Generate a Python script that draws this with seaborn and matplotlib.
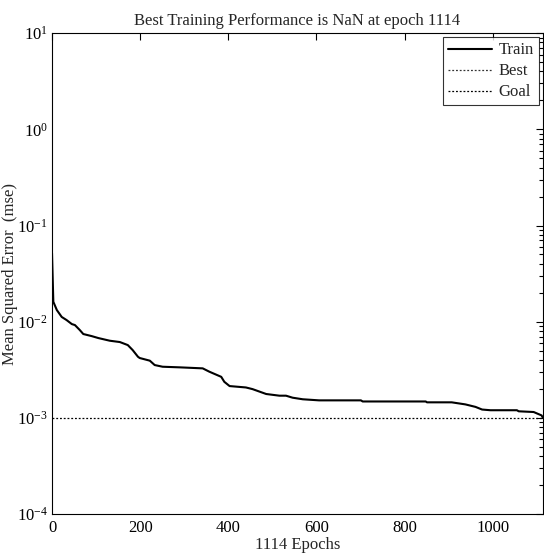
import numpy as np
import pandas as pd
import matplotlib
matplotlib.use("Agg")
import matplotlib.pyplot as plt
import seaborn as sns
from matplotlib.ticker import LogLocator, NullFormatter, FixedLocator

# Data
epochs = [0, 3, 11, 22, 33, 45, 52, 63, 71, 90, 105, 131, 154, 172, 183, 195, 199,
          222, 233, 251, 290, 342, 357, 384, 391, 403, 440, 455, 486, 516, 531,
          546, 569, 606, 701, 705, 848, 851, 907, 938, 961, 976, 995, 1055,
          1059, 1093, 1111, 1114]
train_mse = [0.0516, 0.0161, 0.0132, 0.0112, 0.0104, 0.00944, 0.00922, 0.00819,
             0.00744, 0.00708, 0.00676, 0.00634, 0.00614, 0.00571, 0.00507,
             0.00432, 0.00419, 0.00393, 0.00354, 0.00340, 0.00335, 0.00327,
             0.00302, 0.00267, 0.00237, 0.00214, 0.00207, 0.00199, 0.00177,
             0.00170, 0.00170, 0.00162, 0.00156, 0.00152, 0.00152, 0.00148,
             0.00148, 0.00145, 0.00145, 0.00138, 0.00130, 0.00122, 0.00120,
             0.00120, 0.00117, 0.00115, 0.00106, 0.00100]
goal_value = 1e-3
best_value = float("nan")
best_epoch = 1114
title_text = "Best Training Performance is NaN at epoch 1114"
x_label = "1114 Epochs"
y_label = "Mean Squared Error  (mse)"
x_ticks = [0, 200, 400, 600, 800, 1000]

sns.set_theme(style="white")
plt.rcParams["font.family"] = ["Liberation Serif", "DejaVu Serif"]
plt.rcParams["mathtext.fontset"] = "custom"
plt.rcParams["mathtext.rm"] = "Liberation Serif"

fig = plt.figure(figsize=(5.44, 5.53), dpi=100)
ax = fig.add_axes([0.0956, 0.0705, 0.9024, 0.8695])

df = pd.DataFrame({"Epoch": epochs, "MSE": train_mse})
sns.lineplot(data=df, x="Epoch", y="MSE", ax=ax, color="black", linewidth=1.5,
             label="Train")
ax.plot([best_epoch, best_epoch], [best_value, best_value], color="#333333",
        linestyle=(0, (1.5, 1.5)), linewidth=0.9, label="Best")
ax.axhline(goal_value, color="black", linestyle=(0, (1.5, 1.5)), linewidth=0.9,
           label="Goal")

ax.set_yscale("log")
ax.set_xlim(0, 1114)
ax.set_ylim(1e-4, 1e1)
ax.xaxis.set_major_locator(FixedLocator(x_ticks))
ax.yaxis.set_major_locator(LogLocator(base=10, numticks=10))
ax.yaxis.set_minor_locator(LogLocator(base=10, subs=np.arange(2, 10), numticks=20))
ax.yaxis.set_minor_formatter(NullFormatter())

ax.tick_params(axis="both", which="both", direction="in", top=True, right=True,
               colors="black", labelsize=12, width=0.8)
ax.tick_params(axis="both", which="major", length=5, pad=4)
ax.tick_params(axis="y", which="major", pad=3)
ax.tick_params(axis="y", which="minor", length=3)
for s in ax.spines.values():
    s.set_color("black")
    s.set_linewidth(0.8)

ax.set_title(title_text, fontsize=12, pad=6)
ax.set_xlabel(x_label, fontsize=12, labelpad=1)
ax.set_ylabel(y_label, fontsize=12)
ax.yaxis.set_label_coords(-0.070, 0.5)

leg = ax.legend(loc="upper right", fontsize=12, frameon=True, fancybox=False,
                edgecolor="black", borderpad=0.3, labelspacing=0.3,
                handlelength=2.6, handletextpad=0.4, borderaxespad=0.25)
leg.get_frame().set_linewidth(0.8)

fig.savefig("out.png", dpi=100)
